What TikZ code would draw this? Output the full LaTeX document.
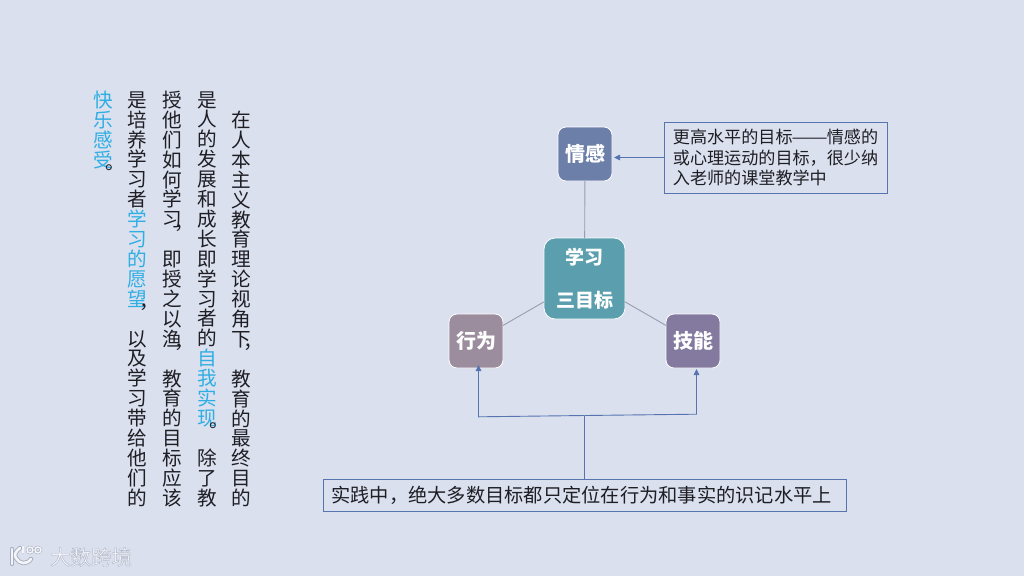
\documentclass[tikz,border=0pt]{standalone}
\usepackage{fontspec}
\usepackage{graphicx}
\setmainfont{Noto Sans CJK SC}
\usetikzlibrary{arrows.meta}
\definecolor{bgc}{HTML}{DAE0EE}
\definecolor{hl}{HTML}{2FAEE3}
\definecolor{ink}{HTML}{1E1E24}
\definecolor{linkb}{HTML}{5574B0}
\definecolor{linkg}{HTML}{9A9CB0}
\definecolor{cq}{HTML}{6C7FA9}
\definecolor{cc}{HTML}{5B9FAE}
\definecolor{cx}{HTML}{9B8D9D}
\definecolor{cj}{HTML}{84799F}
\definecolor{wm}{HTML}{F4F5F9}
\definecolor{wms}{HTML}{A8AEBD}
\newcommand{\pmk}[1]{\smash{\raisebox{0.9em}{\makebox[1em][l]{\hspace{0.62em}#1}}}}
\newcommand{\hlt}[1]{\textcolor{hl}{#1}}
\newcommand{\wdash}{\makebox[1em]{\scalebox{1.25}[1]{—}}}
\tikzset{
  x=1pt,y=-1pt,
  colt/.style={inner sep=0pt,outer sep=0pt,text=ink,align=center,font=\fontsize{19.6}{19.9}\selectfont},
  goal/.style={draw=white,line width=0.8pt,rounded corners=8pt,inner sep=0pt,outer sep=0pt,minimum width=54pt,minimum height=54pt,text=white,font=\fontsize{20}{24}\selectfont\bfseries},
  notebox/.style={draw=linkb,line width=0.9pt,inner sep=0pt,outer sep=0pt,text=ink},
  grayline/.style={draw=linkg,line width=0.9pt},
  bluearrow/.style={draw=linkb,line width=0.9pt,-{Triangle[length=6pt,width=5.5pt]}},
  blueline/.style={draw=linkb,line width=0.9pt},
  wmlogo/.style={line cap=round,line join=round},
}
\begin{document}
\begin{tikzpicture}
\fill[bgc] (0,0) rectangle (1024,576);
\useasboundingbox (0,0) rectangle (1024,576);

% vertical text columns
\node[colt] (col1) at (241,299) {\phantom{在}\\在\\人\\本\\主\\义\\教\\育\\理\\论\\视\\角\\下\\\pmk{，}\\教\\育\\的\\最\\终\\目\\的};
\node[colt] (col2) at (207,299) {是\\人\\的\\发\\展\\和\\成\\长\\即\\学\\习\\者\\的\\\hlt{自}\\\hlt{我}\\\hlt{实}\\\hlt{现}\\\pmk{。}\\除\\了\\教};
\node[colt] (col3) at (172,299) {授\\他\\们\\如\\何\\学\\习\\\pmk{，}\\即\\授\\之\\以\\渔\\\pmk{，}\\教\\育\\的\\目\\标\\应\\该};
\node[colt] (col4) at (137,299) {是\\培\\养\\学\\习\\者\\\hlt{学}\\\hlt{习}\\\hlt{的}\\\hlt{愿}\\\hlt{望}\\\pmk{，}\\以\\及\\学\\习\\带\\给\\他\\们\\的};
\node[colt,anchor=north] (col5) at (103,91) {\hlt{快}\\\hlt{乐}\\\hlt{感}\\\hlt{受}\\\pmk{。}};

% goal nodes
\node[goal,fill=cc,minimum width=81pt,minimum height=81pt,rounded corners=11pt,align=center,font=\fontsize{19}{43}\selectfont\bfseries] (ctr) at (584.5,278.5) {学习\\三目标};
\node[goal,fill=cq] (qg) at (585,154) {情感};
\node[goal,fill=cx] (xw) at (476,341) {行为};
\node[goal,fill=cj] (jn) at (693,341) {技能};

\draw[grayline] (ctr) -- (qg);
\draw[grayline] (ctr) -- (xw);
\draw[grayline] (ctr) -- (jn);

% note boxes
\node[notebox,minimum width=223pt,minimum height=71pt,align=left,font=\fontsize{17.1}{20.8}\selectfont] (nb1) at (775.5,157.5) {更高水平的目标\wdash\wdash 情感的\\或心理运动的目标，很少纳\\入老师的课堂教学中};
\node[notebox,minimum width=523pt,minimum height=32pt,font=\fontsize{19.25}{24}\selectfont] (nb2) at (584.5,495) {实践中，绝大多数目标都只定位在行为和事实的识记水平上\kern6pt};

\draw[bluearrow,shorten >=2pt] (nb1.west) -- (qg.east |- nb1.west);

\coordinate (jm) at (584.5,415.5);
\coordinate (jl) at (478.5,416.8);
\coordinate (jr) at (696.5,414.2);
\draw[blueline] (jm |- nb2.north) -- (jm);
\draw[bluearrow,shorten >=-3pt] (jm) -- (jl) -- (jl |- xw.south);
\draw[bluearrow,shorten >=1pt] (jm) -- (jr) -- (jr |- jn.south);

% watermark
\foreach \c/\w in {wms/4.4,wm/2.6}{
  \draw[wmlogo,draw=\c,line width=\w pt] (12,549) -- (12,564);
  \draw[wmlogo,draw=\c,line width=\w pt] (20,548) .. controls (15,552) and (14,555) .. (16,558) .. controls (19,564) and (27,565) .. (31,559);
  \draw[wmlogo,draw=\c,line width=\w*0.6 pt] (23,546) -- (23,553);
  \draw[wmlogo,draw=\c,line width=\w*0.6 pt] (30,550) circle[radius=3];
  \draw[wmlogo,draw=\c,line width=\w*0.6 pt] (38,550) circle[radius=3];
}
\node[inner sep=0pt,font=\fontsize{20.5}{24}\selectfont] (wmt) at (91,557) {\special{pdf:code q 2 Tr 0.45 w 0.70 0.72 0.78 RG 0.97 0.97 0.99 rg}大数跨境\special{pdf:code 0 Tr Q}};
\end{tikzpicture}
\end{document}
